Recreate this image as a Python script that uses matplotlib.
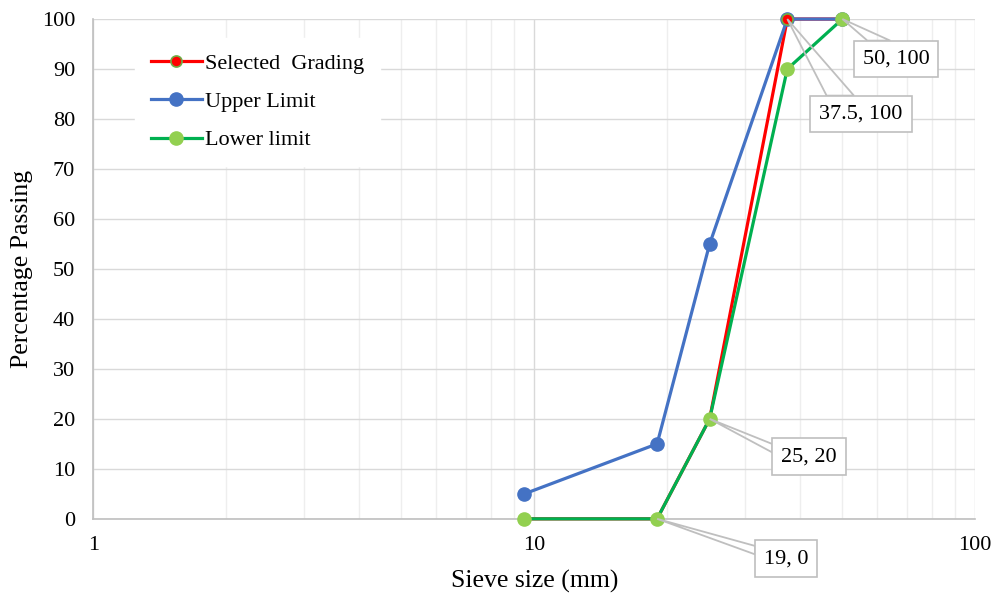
import matplotlib.pyplot as plt
from matplotlib.ticker import FixedLocator, NullFormatter
from matplotlib.lines import Line2D
from matplotlib.patches import Polygon
from matplotlib.transforms import IdentityTransform

plt.rcParams['font.family'] = ['Liberation Serif', 'DejaVu Serif']

# Sieve sizes (mm) and percentage passing
sieve = [9.5, 19, 25, 37.5, 50]
selected = [0, 0, 20, 100, 100]
upper = [5, 15, 55, 100, 100]
lower = [0, 0, 20, 90, 100]

# Callout labels: point, box centre, which box edge the pointer meets
callouts = [
    ((50, 100), (66.2, 92), "50, 100", 'top'),
    ((37.5, 100), (55.1, 81), "37.5, 100", 'top'),
    ((25, 20), (42, 12.4), "25, 20", 'left'),
    ((19, 0), (37.3, -8), "19, 0", 'left'),
]

fig = plt.figure(figsize=(9.92, 5.95), dpi=100)
ax = fig.add_axes([0.094, 0.128, 0.889, 0.840])

# lines first (red, blue, green), markers on top
ax.plot(sieve, selected, color='#FF0000', lw=2.3, zorder=3, clip_on=False)
ax.plot(sieve, upper, color='#4472C4', lw=2.3, zorder=3.1, clip_on=False)
ax.plot(sieve, lower, color='#00B050', lw=2.3, zorder=3.2, clip_on=False)
ax.plot(sieve, upper, ls='none', marker='o', ms=9.5,
        mfc='#4472C4', mec='#4472C4', zorder=4, clip_on=False)
ax.plot(sieve, selected, ls='none', marker='o', ms=8,
        mfc='#FF0000', mec='#70AD47', mew=1.2, zorder=4.1, clip_on=False)
ax.plot(sieve, lower, ls='none', marker='o', ms=9.5,
        mfc='#92D050', mec='#92D050', zorder=4.2, clip_on=False)

ax.set_xscale('log')
ax.set_xlim(1, 100)
ax.set_ylim(0, 100)
ax.set_yticks(range(0, 101, 10))
ax.xaxis.set_major_locator(FixedLocator([1, 10, 100]))
ax.set_xticklabels(['1', '10', '100'])
ax.xaxis.set_minor_locator(FixedLocator([m * d for d in (1, 10) for m in range(2, 10)]))
ax.xaxis.set_minor_formatter(NullFormatter())

ax.grid(which='major', color='#D9D9D9', lw=1.0, zorder=0)
ax.grid(which='minor', axis='x', color='#EEEEEE', lw=1.0, zorder=0)
ax.tick_params(which='both', length=0, labelsize=16)
ax.tick_params(axis='x', pad=12)
ax.tick_params(axis='y', pad=13)
for s in ['top', 'right']:
    ax.spines[s].set_visible(False)
for s in ['left', 'bottom']:
    ax.spines[s].set_color('#BFBFBF')
    ax.spines[s].set_linewidth(1.2)

ax.set_xlabel('Sieve size (mm)', fontsize=18.5, labelpad=11)
ax.set_ylabel('Percentage Passing', fontsize=18.5, labelpad=6)

texts = []
for (px, py), (tx, ty), txt, edge in callouts:
    t = ax.text(tx, ty, txt, fontsize=16, ha='center', va='center', zorder=7,
                bbox=dict(boxstyle='square,pad=0.4', fc='white', ec='#BFBFBF', lw=1.2))
    texts.append(t)

handles = [
    Line2D([], [], color='#FF0000', lw=2.3, marker='o', ms=8, mfc='#FF0000',
           mec='#70AD47', mew=1.2),
    Line2D([], [], color='#4472C4', lw=2.3, marker='o', ms=9.5, mfc='#4472C4',
           mec='#4472C4'),
    Line2D([], [], color='#00B050', lw=2.3, marker='o', ms=9.5, mfc='#92D050',
           mec='#92D050'),
]
leg = ax.legend(handles, ['Selected  Grading', 'Upper Limit', 'Lower limit'],
                loc='upper left', bbox_to_anchor=(0.035, 0.985), fontsize=16,
                frameon=True, fancybox=False, edgecolor='white', framealpha=1,
                handlelength=2.3, handletextpad=0.15, labelspacing=0.8,
                borderpad=0.7)
leg.set_zorder(8)

# callout pointers: thin wedge from the point to the box edge
fig.canvas.draw()
for t, ((px, py), _, _, edge) in zip(texts, callouts):
    bb = t.get_bbox_patch().get_window_extent()
    p = ax.transData.transform((px, py))
    if edge == 'top':
        base = [(bb.x0 + 0.16 * bb.width, bb.y1), (bb.x0 + 0.43 * bb.width, bb.y1)]
    else:
        base = [(bb.x0, bb.y1 - 0.15 * bb.height), (bb.x0, bb.y1 - 0.38 * bb.height)]
    ax.add_patch(Polygon([tuple(p)] + base, closed=True, fc='none', ec='#BFBFBF',
                         lw=1.3, transform=IdentityTransform(), clip_on=False,
                         zorder=6))

fig.savefig('out.png', dpi=100)
